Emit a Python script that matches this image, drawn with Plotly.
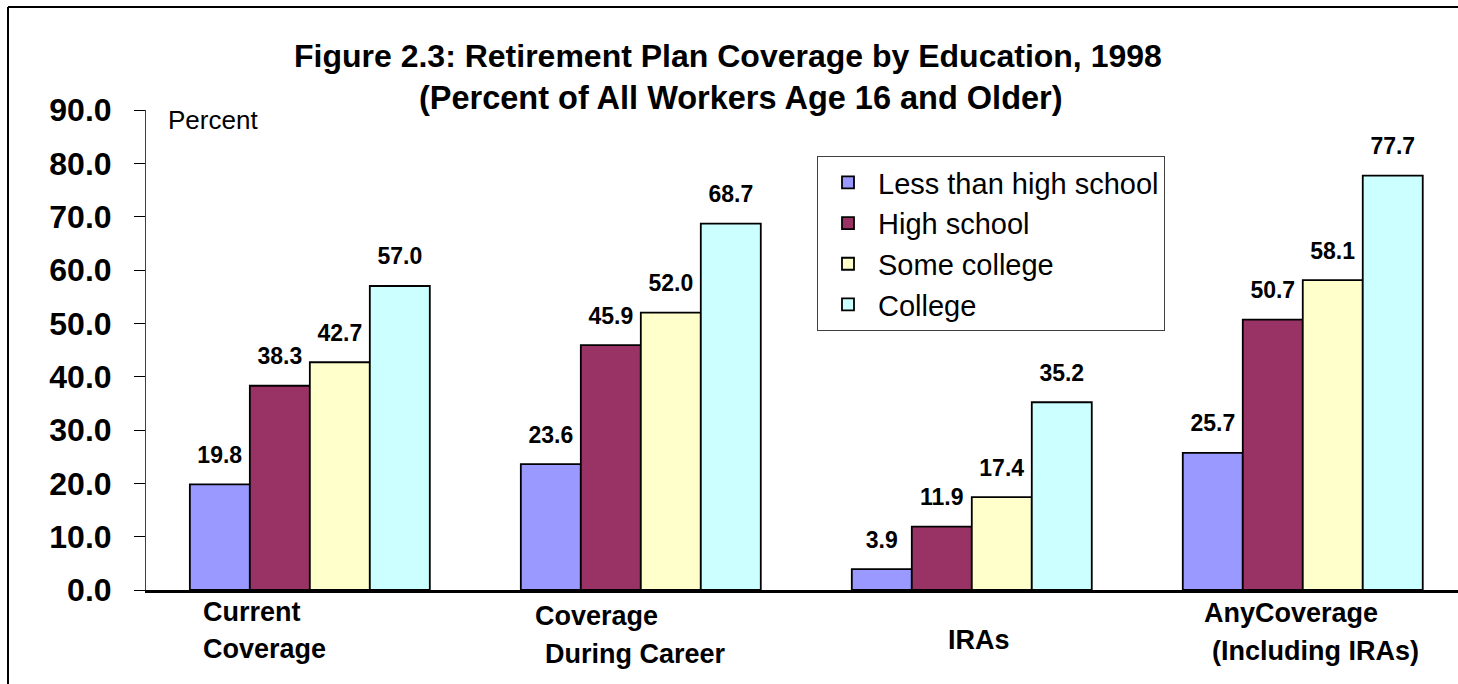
import plotly.graph_objects as go

# Coverage categories and the education groups plotted within each one
categories = ["Current Coverage", "Coverage During Career", "IRAs", "AnyCoverage (Including IRAs)"]
category_lines = [["Current", "Coverage"], ["Coverage", "During Career"], ["IRAs"], ["AnyCoverage", "(Including IRAs)"]]

less_than_hs = [19.8, 23.6, 3.9, 25.7]
high_school = [38.3, 45.9, 11.9, 50.7]
some_college = [42.7, 52.0, 17.4, 58.1]
college = [57.0, 68.7, 35.2, 77.7]

series_names = ["Less than high school", "High school", "Some college", "College"]
series_values = [less_than_hs, high_school, some_college, college]
series_colors = ["#9999FF", "#993366", "#FFFFCC", "#CCFFFF"]

y_ticks = [0, 10, 20, 30, 40, 50, 60, 70, 80, 90]

FONT = "Arial, Liberation Sans, sans-serif"

fig = go.Figure()
for name, vals, color in zip(series_names, series_values, series_colors):
    fig.add_trace(go.Bar(
        name=name,
        x=categories,
        y=vals,
        marker=dict(color=color, line=dict(color="#000000", width=1.8)),
        text=[f"{v:.1f}" for v in vals],
        # the small trailing line lifts each value label clear of its bar
        texttemplate="<span style='font-size:23px'>%{text}</span><br>&nbsp;",
        textposition="outside",
        cliponaxis=False,
        textfont=dict(family=FONT, size=12, color="#000000", weight="bold"),
    ))

# Category labels below the axis, set in two lines with their own indents
label_layout = [
    [(-109, -21.5), (-109, -58.5)],
    [(-108, -25.5), (-98, -63.5)],
    [(-26, -49.5)],
    [(-101, -22.5), (-93, -60.5)],
]
annotations = []
for cat, lines, offsets in zip(categories, category_lines, label_layout):
    for line, (dx, dy) in zip(lines, offsets):
        annotations.append(dict(
            x=cat, xref="x", y=0, yref="paper",
            text=f"<b>{line}</b>", showarrow=False,
            xanchor="left", yanchor="middle", xshift=dx, yshift=dy,
            font=dict(family=FONT, size=27, color="#000000"),
        ))

# Title lines
annotations.append(dict(
    x=(728 - 146) / 1312, xref="paper", y=1, yref="paper",
    text="<b>Figure 2.3: Retirement Plan Coverage by Education, 1998</b>",
    showarrow=False, xanchor="center", yanchor="middle", yshift=54,
    font=dict(family=FONT, size=32, color="#000000"),
))
annotations.append(dict(
    x=(741 - 146) / 1312, xref="paper", y=1, yref="paper",
    text="<b>(Percent of All Workers Age 16 and Older)</b>",
    showarrow=False, xanchor="center", yanchor="middle", yshift=12.5,
    font=dict(family=FONT, size=32.5, color="#000000"),
))
annotations.append(dict(
    x=(166 - 146) / 1312, xref="paper", y=1, yref="paper",
    text="Percent", showarrow=False, xanchor="left", yanchor="middle", yshift=-10,
    font=dict(family=FONT, size=26, color="#000000"),
))

# Outer frame of the chart (top and left edges)
frame_left = (8 - 146) / 1312
frame_top = (590 - 7) / 480
shapes = [
    dict(type="line", xref="paper", yref="paper",
         x0=frame_left, x1=1.0, y0=frame_top, y1=frame_top,
         line=dict(color="#000000", width=2), layer="below"),
    dict(type="line", xref="paper", yref="paper",
         x0=frame_left, x1=frame_left, y0=-94 / 480, y1=frame_top,
         line=dict(color="#000000", width=2), layer="below"),
]

fig.update_layout(
    width=1458, height=684,
    margin=dict(l=146, r=0, t=110, b=94),
    paper_bgcolor="#FFFFFF", plot_bgcolor="#FFFFFF",
    barmode="group", bargap=0.275, bargroupgap=0,
    showlegend=True,
    legend=dict(
        x=(817 - 146) / 1312, y=(590 - 156) / 480, xanchor="left", yanchor="top",
        bgcolor="#FFFFFF", bordercolor="#404040", borderwidth=1,
        font=dict(family=FONT, size=29, color="#000000"),
        traceorder="normal", itemwidth=50,
    ),
    annotations=annotations,
    shapes=shapes,
    font=dict(family=FONT, color="#000000"),
)
fig.update_xaxes(
    range=[-0.495, 3.469], showticklabels=False, ticks="",
    showline=True, linecolor="#000000", linewidth=2.5, showgrid=False, zeroline=False,
)
fig.update_yaxes(
    range=[0, 90], tickvals=y_ticks, ticktext=[f"{t:.1f}" for t in y_ticks],
    ticks="outside", ticklen=11, tickcolor="#000000", tickwidth=1,
    ticklabelstandoff=16,
    tickfont=dict(family=FONT, size=32, color="#000000", weight="bold"),
    showline=True, linecolor="#404040", linewidth=1, showgrid=False, zeroline=False,
)

fig.write_html("out.html")
